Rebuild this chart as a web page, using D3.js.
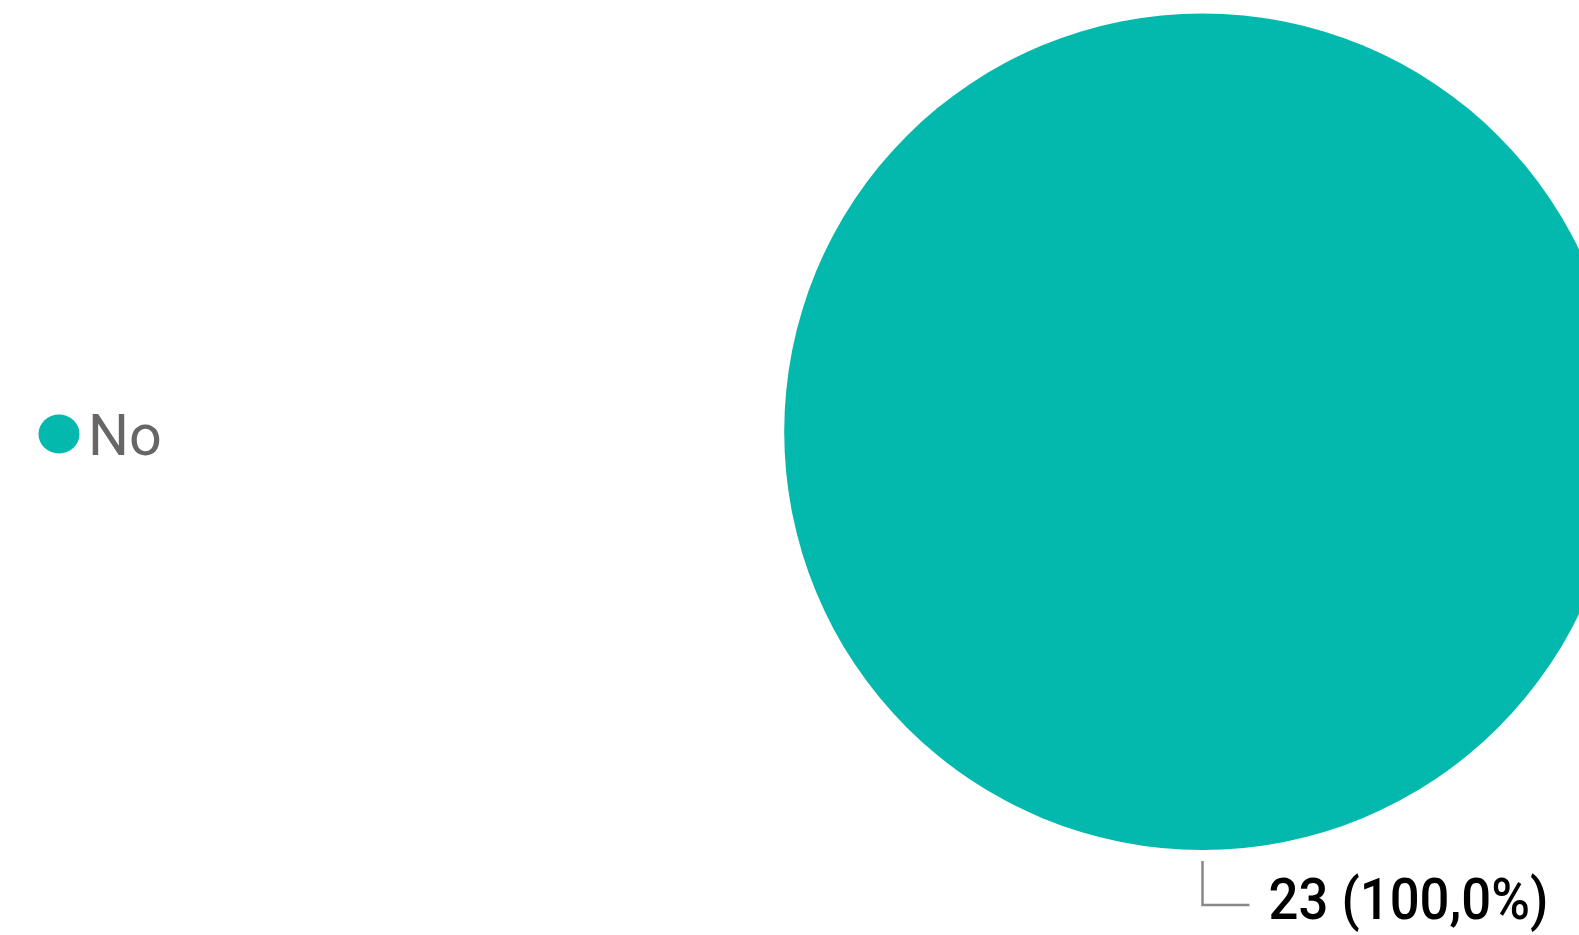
<!DOCTYPE html>
<html>
<head>
<meta charset="utf-8">
<script src="https://cdn.jsdelivr.net/npm/d3@7"></script>
<style>
  html, body { margin: 0; padding: 0; background: #fff; overflow: hidden; }
  svg { display: block; font-family: Roboto, "Noto Sans", sans-serif; }
</style>
</head>
<body>
<script>
// chart data
const categories = ['No'];
const values = [23];
const colors = ['#03b8ad'];

const width = 1579, height = 935;
const cx = 1202.5, cy = 431.7, radius = 418.3;

const svg = d3.select('body').append('svg')
    .attr('width', width)
    .attr('height', height);

const total = d3.sum(values);
const pie = d3.pie().sort(null).value(d => d.value);
const arc = d3.arc().innerRadius(0).outerRadius(radius);
const data = categories.map((c, i) => ({name: c, value: values[i], color: colors[i]}));
const arcs = pie(data);

const g = svg.append('g')
    .attr('transform', `translate(${cx},${cy})`);

g.selectAll('path.slice')
  .data(arcs)
  .enter().append('path')
  .attr('class', 'slice')
  .attr('fill', d => d.data.color)
  .attr('d', arc);

// percentage label with decimal comma
const fmt = v => d3.format('.1f')(v).replace('.', ',');

// leader line + label, anchored below the slice's centre angle
arcs.forEach(d => {
  const mid = (d.startAngle + d.endAngle) / 2;
  // a full pie's mid-angle points straight down
  const px = Math.sin(mid) * (radius + 11);
  const py = -Math.cos(mid) * (radius + 11);
  g.append('path')
    .attr('d', `M${px},${py}V${py + 44}H${px + 47}`)
    .attr('fill', 'none')
    .attr('stroke', '#888')
    .attr('stroke-width', 2.5);
  g.append('text')
    .attr('x', px + 66)
    .attr('y', py + 58)
    .attr('font-size', 58)
    .attr('font-weight', 500)
    .attr('fill', '#000')
    .attr('textLength', 280)
    .attr('lengthAdjust', 'spacingAndGlyphs')
    .text(`${d.data.value} (${fmt(d.data.value / total * 100)}%)`);
});

// legend
const legend = svg.append('g')
    .attr('transform', 'translate(59,434)');
const items = legend.selectAll('g.item')
  .data(data)
  .enter().append('g')
  .attr('class', 'item')
  .attr('transform', (d, i) => `translate(0,${i * 60})`);
items.append('ellipse')
  .attr('rx', 20.5)
  .attr('ry', 19.5)
  .attr('fill', d => d.color);
items.append('text')
  .attr('x', 29)
  .attr('y', 20.5)
  .attr('font-size', 57.5)
  .attr('fill', '#666')
  .text(d => d.name);
</script>
</body>
</html>
